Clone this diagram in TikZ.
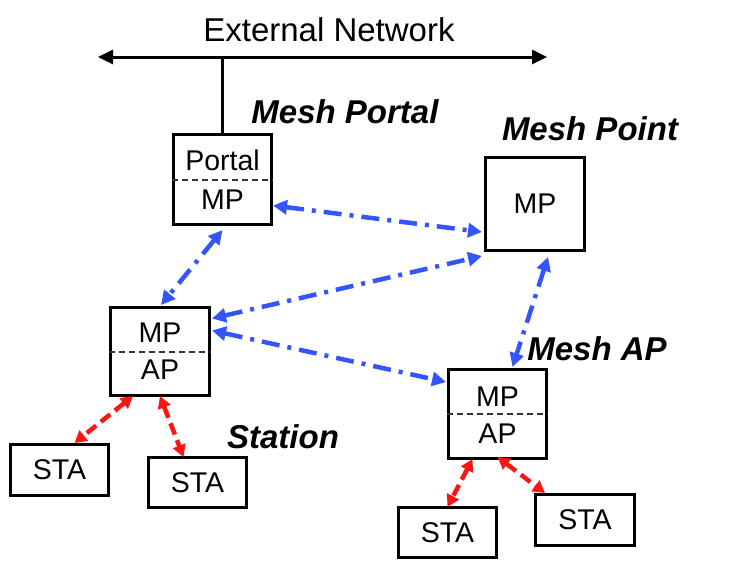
\documentclass[tikz,border=0pt]{standalone}
\usepackage{fontspec}
\setmainfont{Liberation Sans}
\usetikzlibrary{arrows.meta}
\definecolor{meshblue}{RGB}{51,85,255}
\definecolor{stared}{RGB}{255,20,20}
\begin{document}
\begin{tikzpicture}[x=1pt,y=-1pt,
  box/.style={draw, line width=3pt, inner sep=0pt, font=\fontsize{28.5}{30}\selectfont},
  lbl/.style={inner sep=0pt, font=\fontsize{28.5}{30}\selectfont},
  tag/.style={inner sep=0pt, font=\fontsize{33}{35}\selectfont\bfseries\itshape},
  divider/.style={draw=black!80, line width=2pt, dash pattern=on 6pt off 4pt},
  net/.style={line width=3pt, {Triangle[length=15pt,width=14pt]}-{Triangle[length=15pt,width=14pt]}},
  wl/.style={draw=meshblue, line width=4.5pt, dash pattern=on 18pt off 8pt on 4pt off 8pt,
    {Triangle[length=14pt,width=14pt]}-{Triangle[length=14pt,width=14pt]}},
  rl/.style={draw=stared, line width=4.5pt, dash pattern=on 12pt off 6pt,
    {Triangle[length=12pt,width=13pt]}-{Triangle[length=12pt,width=13pt]}}
]
\useasboundingbox (0,0) rectangle (736,571);

% external network
\node[inner sep=0pt, font=\fontsize{33}{35}\selectfont] (ext) at (329,30) {External Network};
\coordinate (enl) at (98,57);
\coordinate (enr) at (547,57);
\draw[net] (enl) -- (enr);

% boxes
\node[box, minimum width=98pt, minimum height=90pt] (portal) at (222.5,179.5) {};
\node[lbl] (portalT) at (222.5,160) {Portal};
\node[lbl] (portalB) at (222.5,200) {MP};
\draw[divider] (portal.west) -- (portal.east);

\node[box, minimum width=99pt, minimum height=93pt] (mpt) at (535,204) {MP};

\node[box, minimum width=99pt, minimum height=88pt] (lbox) at (160,351.5) {};
\node[lbl] (lboxT) at (160,333) {MP};
\node[lbl] (lboxB) at (160,370) {AP};
\draw[divider] (lbox.west) -- (lbox.east);

\node[box, minimum width=98pt, minimum height=89pt] (rbox) at (497.5,414) {};
\node[lbl] (rboxT) at (497.5,397) {MP};
\node[lbl] (rboxB) at (497.5,434) {AP};
\draw[divider] (rbox.west) -- (rbox.east);

\node[box, minimum width=98pt, minimum height=51pt] (sta1) at (59.5,470) {STA};
\node[box, minimum width=98pt, minimum height=50pt] (sta2) at (197.5,482.5) {STA};
\node[box, minimum width=98pt, minimum height=50pt] (sta3) at (447.5,532.5) {STA};
\node[box, minimum width=99pt, minimum height=51pt] (sta4) at (585,520) {STA};

% labels
\node[tag] (tportal) at (345,111.5) {Mesh Portal};
\node[tag] (tpoint) at (590,128.5) {Mesh Point};
\node[tag] (tap) at (597,349) {Mesh AP};
\node[tag] (tsta) at (283,437) {Station};

% wired uplink
\coordinate (tapnet) at (portal.north |- enl);
\draw[line width=3pt] (portal.north) -- (tapnet);

% mesh links
\draw[wl] ([yshift=-26pt]portal.east) -- ([xshift=-2pt,yshift=-28pt]mpt.west);
\draw[wl] ([xshift=1pt,yshift=33pt]lbox.east) -- ([xshift=-2pt,yshift=-4pt]mpt.south west);
\draw[wl] ([yshift=-4pt]portal.south) -- ([xshift=1pt,yshift=1pt]lbox.north);
\draw[wl] ([xshift=1pt,yshift=21pt]lbox.east) -- ([xshift=-1pt,yshift=32pt]rbox.west);
\draw[wl] ([xshift=13pt,yshift=-5pt]mpt.south) -- ([xshift=15pt,yshift=1pt]rbox.north);

% station links
\draw[rl] ([xshift=-27pt,yshift=1pt]lbox.south) -- ([xshift=15pt]sta1.north);
\draw[rl] ([yshift=1pt]lbox.south) -- ([xshift=-14pt,yshift=-1pt]sta2.north);
\draw[rl] ([xshift=-25pt,yshift=1pt]rbox.south) -- ([yshift=-1pt]sta3.north);
\draw[rl] ([yshift=3pt]rbox.south) -- ([xshift=-40pt]sta4.north);
\end{tikzpicture}
\end{document}
